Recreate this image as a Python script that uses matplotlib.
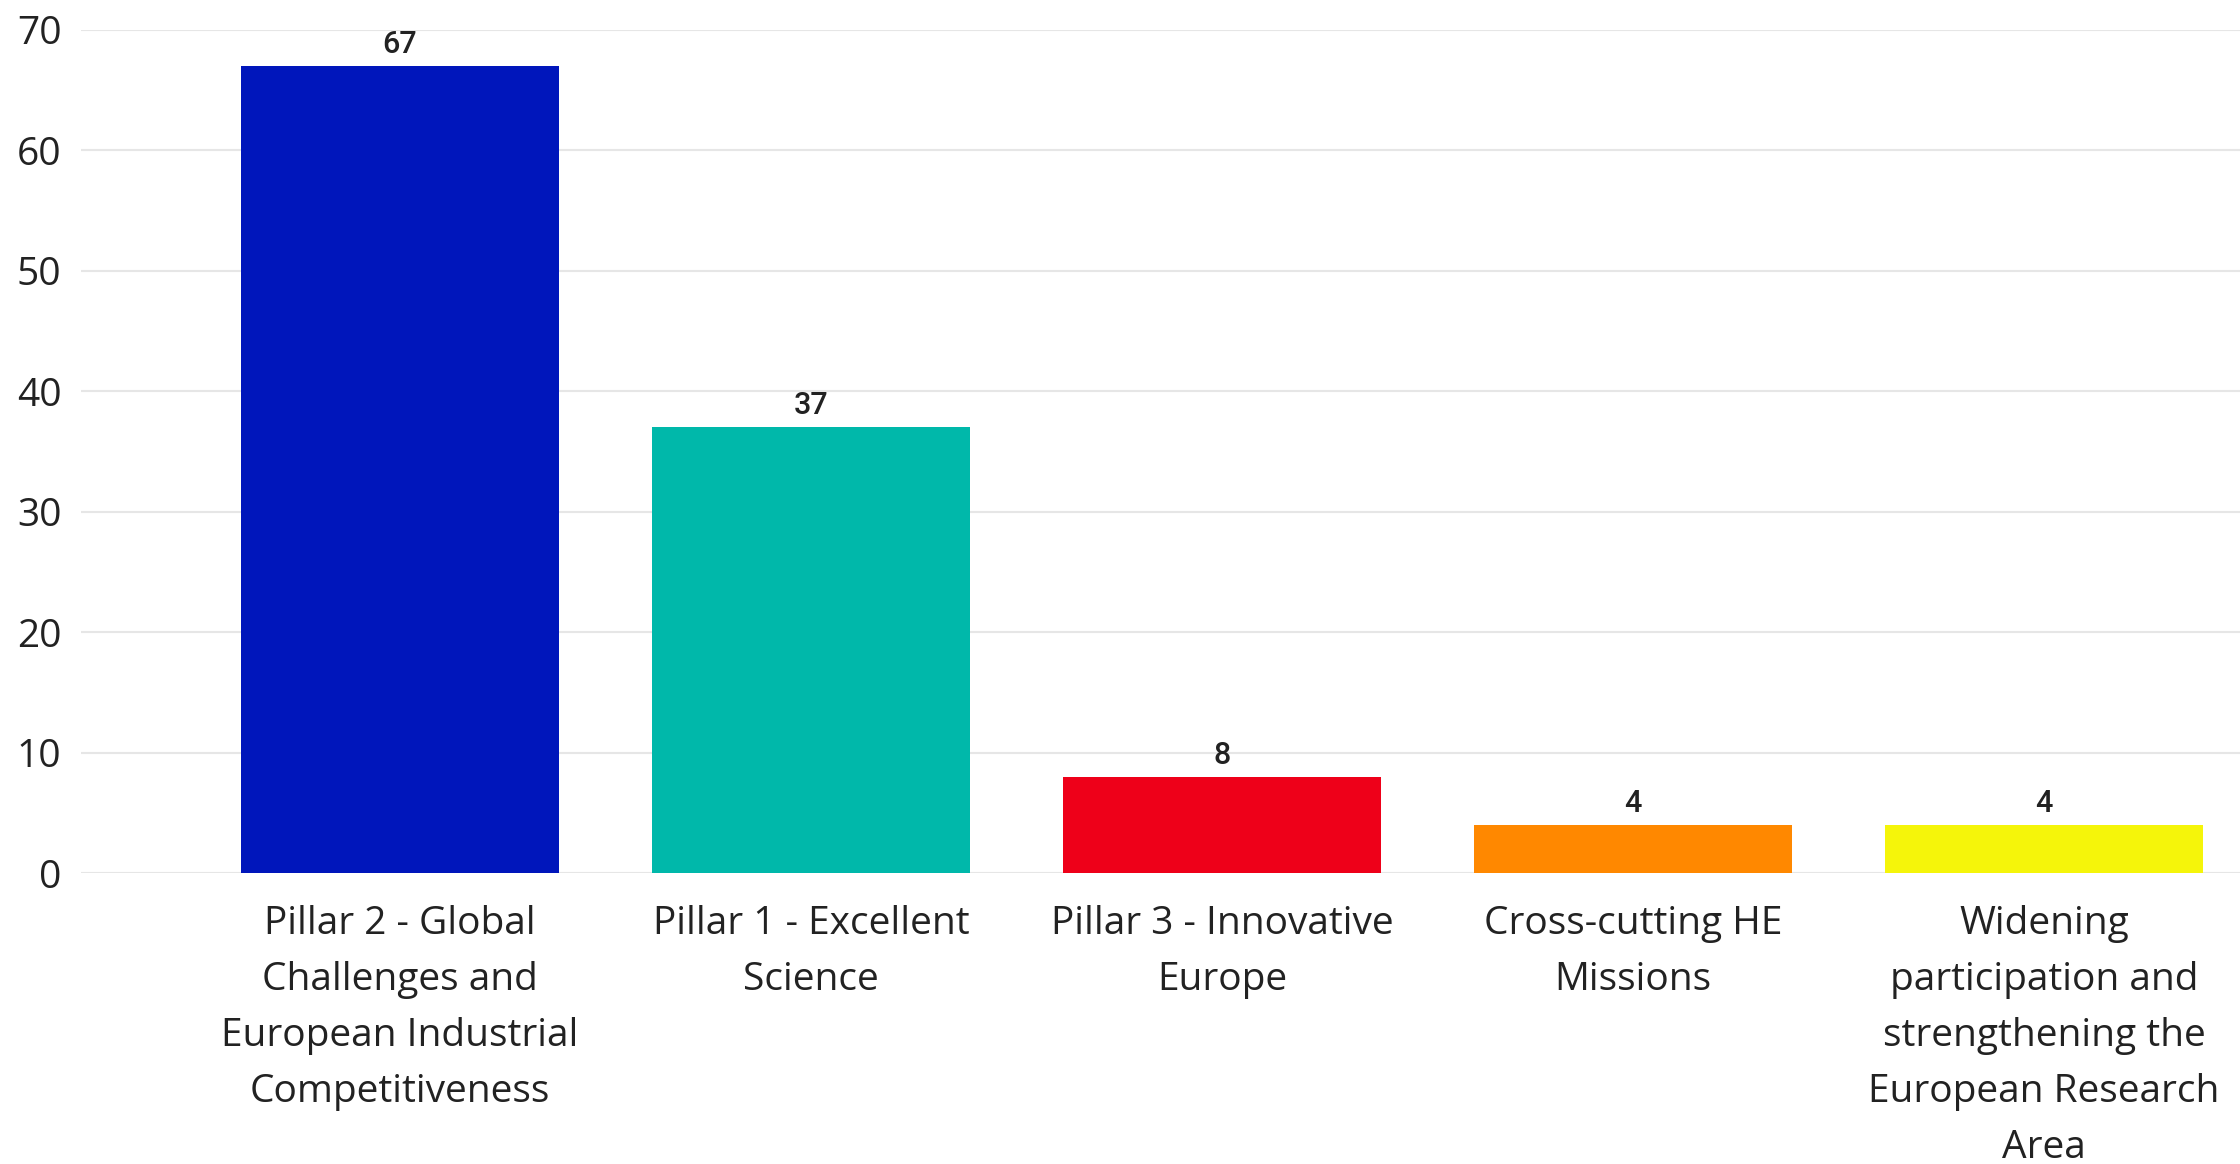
import matplotlib.pyplot as plt

# Data
categories = ['Pillar 2 - Global\nChallenges and\nEuropean Industrial\nCompetitiveness',
              'Pillar 1 - Excellent\nScience',
              'Pillar 3 - Innovative\nEurope',
              'Cross-cutting HE\nMissions',
              'Widening\nparticipation and\nstrengthening the\nEuropean Research\nArea']
values = [67, 37, 8, 4, 4]
colors = ['#0016BB', '#00B8AA', '#EE0019', '#FF8800', '#F5F50A']
yticks = [0, 10, 20, 30, 40, 50, 60, 70]

plt.rcParams['font.family'] = ['Open Sans', 'DejaVu Sans']

fig = plt.figure(figsize=(22.4, 11.64), dpi=100)
ax = fig.add_axes([81 / 2240, 0.25, 1 - 81 / 2240, 1 - 0.25 - 30 / 1164])

x = range(len(categories))
bars = ax.bar(x, values, width=0.773, color=colors, zorder=2)

# value labels on top of bars
for b, v in zip(bars, values):
    ax.annotate(str(v), (b.get_x() + b.get_width() / 2, v),
                xytext=(0, 5), textcoords='offset points',
                ha='center', va='bottom', fontsize=22, family='Roboto',
                fontweight='medium', color='#222222')

ax.set_xlim(-0.776, 4.477)
ax.set_ylim(0, 70)
ax.set_yticks(yticks)
ax.set_xticks(list(x))
ax.set_xticklabels(categories, fontsize=28, linespacing=1.62, color='#222222')
ax.tick_params(axis='y', labelsize=28, length=0, pad=14, labelcolor='#222222')
ax.tick_params(axis='x', length=0, pad=23)

ax.grid(axis='y', color='#E6E6E6', linewidth=1.5, zorder=0)
for s in ax.spines.values():
    s.set_visible(False)

plt.savefig('out.png', dpi=100)
